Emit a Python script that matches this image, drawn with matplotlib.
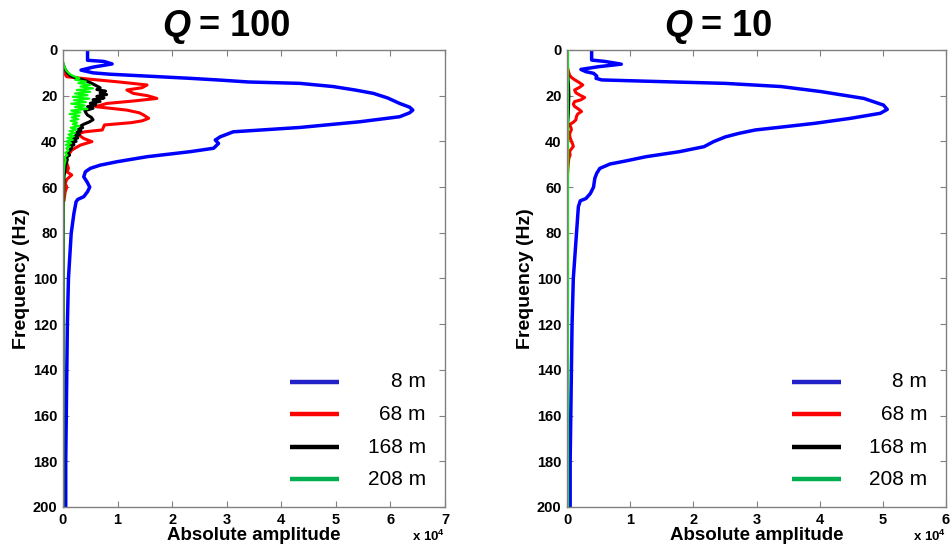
from __future__ import annotations

import matplotlib

matplotlib.use("Agg")
import matplotlib.pyplot as plt
from matplotlib.lines import Line2D

plt.rcParams["font.family"] = ["Liberation Sans", "DejaVu Sans"]
plt.rcParams["mathtext.fontset"] = "custom"
plt.rcParams["mathtext.rm"] = "Liberation Sans:bold"
plt.rcParams["mathtext.bf"] = "Liberation Sans:bold"

# Amplitude spectra, amplitudes in units of 1e4, frequency in Hz.
# ---- Q = 100 ----
q100_8m_freq = [0, 4.5, 5.0, 6.1, 7.5, 8.8, 10.0, 10.6, 11.5, 12.4, 13.2, 14.0, 14.6, 16.0, 17.5,
                19.0, 21.0, 23.4, 25.0, 26.3, 27.5, 29.2, 31.4, 33.9, 35.8, 38.0, 39.4, 40.9, 43.0,
                44.5, 46.7, 48.9, 50.4, 51.8, 53.3, 55.5, 57.7, 60.0, 62.0, 64.2, 65.4, 66.4, 71.5,
                80.3, 100, 120, 140, 160, 180, 200]
q100_8m_amp = [0.45, 0.45, 0.75, 0.90, 0.55, 0.33, 0.55, 0.86, 1.60, 2.33, 2.90, 3.40, 4.34, 4.95, 5.35,
               5.69, 5.95, 6.17, 6.35, 6.41, 6.35, 6.17, 5.44, 4.34, 3.12, 2.88, 2.79, 2.85, 2.76,
               2.33, 1.54, 0.99, 0.68, 0.50, 0.41, 0.38, 0.44, 0.49, 0.45, 0.38, 0.27, 0.24, 0.20,
               0.15, 0.10, 0.08, 0.07, 0.06, 0.05, 0.05]

q100_68m_freq = [7, 10, 11.7, 12.8, 13.9, 15.3, 16.5, 17.5, 19.0, 20.0, 21.2, 22.3, 23.4, 24.8, 26.3,
                 27.5, 28.5, 29.9, 31.0, 31.8, 32.8, 35.0, 35.8, 36.5, 37.2, 38.7, 40.1, 41.6, 43.8,
                 46.0, 47.4, 49.6, 51.8, 53.3, 54.7, 56.6, 58.4, 60.0, 62.0, 65.7]
q100_68m_amp = [0.0, 0.02, 0.07, 0.50, 0.99, 1.54, 1.45, 1.17, 1.29, 1.55, 1.72, 1.30, 0.80, 0.60, 1.17,
                1.40, 1.48, 1.57, 1.45, 1.25, 0.76, 0.72, 0.40, 0.30, 0.29, 0.38, 0.53, 0.32, 0.16,
                0.10, 0.01, 0.07, 0.10, 0.07, 0.16, 0.07, 0.04, 0.07, 0.04, 0.02]

q100_168m_freq = [6, 8, 10, 11.5, 12.5, 13.5, 14.5, 15.5, 16.5, 17.3, 18.0, 18.8, 19.5, 20.3, 21.0,
                  21.8, 22.5, 23.3, 24.0, 24.8, 25.5, 26.5, 27.5, 28.5, 29.5, 30.5, 31.5, 32.5, 33.3,
                  34.0, 34.8, 35.5, 36.3, 37.0, 37.8, 38.5, 39.3, 40.0, 40.8, 41.5, 42.3, 43.0, 44.0,
                  45.0, 46.0, 47.0, 48.0, 50.0, 52.0, 55.0, 60.0, 70.0, 100, 200]
q100_168m_amp = [0.0, 0.03, 0.08, 0.15, 0.28, 0.42, 0.52, 0.60, 0.68, 0.62, 0.78, 0.68, 0.80, 0.62, 0.75,
                 0.55, 0.68, 0.50, 0.60, 0.45, 0.55, 0.40, 0.42, 0.45, 0.52, 0.55, 0.48, 0.38, 0.32,
                 0.36, 0.28, 0.33, 0.24, 0.30, 0.20, 0.27, 0.16, 0.24, 0.13, 0.20, 0.11, 0.16, 0.12,
                 0.08, 0.12, 0.06, 0.08, 0.05, 0.04, 0.02, 0.01, 0.005, 0.003, 0.002]

q100_208m_freq = [5, 7, 9, 10.5, 11.5, 12.3, 13.0, 13.8, 14.5, 15.3, 16.0, 16.8, 17.5, 18.3, 19.0,
                  19.8, 20.5, 21.3, 22.0, 22.8, 23.5, 24.3, 25.0, 25.8, 26.5, 27.3, 28.0, 28.8, 29.5,
                  30.3, 31.0, 31.8, 32.5, 33.3, 34.0, 34.8, 35.5, 36.3, 37.0, 37.8, 38.5, 39.3, 40.0,
                  40.8, 41.5, 42.3, 43.0, 44.0, 45.0, 46.0, 47.0, 48.0, 50.0, 52.0, 55.0, 60.0, 80.0, 200]
q100_208m_amp = [0.0, 0.02, 0.06, 0.12, 0.20, 0.30, 0.22, 0.42, 0.28, 0.50, 0.32, 0.55, 0.25, 0.50, 0.22,
                 0.45, 0.18, 0.48, 0.20, 0.42, 0.15, 0.40, 0.22, 0.45, 0.15, 0.32, 0.12, 0.30, 0.16,
                 0.28, 0.14, 0.26, 0.18, 0.30, 0.14, 0.25, 0.12, 0.22, 0.10, 0.20, 0.08, 0.18, 0.06,
                 0.15, 0.05, 0.13, 0.06, 0.10, 0.04, 0.08, 0.03, 0.05, 0.03, 0.02, 0.01, 0.008, 0.006, 0.006]

# ---- Q = 10 ----
q10_8m_freq = [0, 4.4, 5.0, 6.2, 7.3, 8.5, 9.5, 10.2, 11.4, 12.4, 13.1, 13.9, 14.6, 16.0, 18.2, 21.2,
               24.1, 26.0, 27.7, 29.9, 32.1, 33.9, 35.0, 36.5, 38.0, 40.1, 42.3, 44.5, 46.7, 48.5,
               49.9, 51.8, 54.0, 56.2, 60.0, 62.8, 65.0, 66.0, 68.6, 80.3, 100, 120, 140, 160, 180, 200]
q10_8m_amp = [0.39, 0.39, 0.60, 0.86, 0.50, 0.22, 0.30, 0.42, 0.47, 0.46, 0.55, 1.57, 2.50, 3.39, 4.02, 4.70,
              5.01, 5.07, 4.96, 4.49, 3.92, 3.34, 2.98, 2.72, 2.51, 2.32, 2.17, 1.78, 1.25, 0.94,
              0.68, 0.52, 0.47, 0.44, 0.42, 0.37, 0.30, 0.21, 0.18, 0.15, 0.10, 0.08, 0.07, 0.06, 0.05, 0.05]

q10_68m_freq = [6.5, 9, 11, 12, 13, 14, 15.3, 16.3, 17.5, 18.7, 19.7, 20.8, 21.8, 22.6, 23.7, 24.7,
                25.8, 26.9, 28.0, 29.1, 30.6, 31.6, 32.7, 33.8, 34.9, 36.0, 37.1, 38.5, 40.0, 41.2,
                42.2, 43.3, 44.4, 46.0, 47.3, 50.0, 54.0, 57.0]
q10_68m_amp = [0.0, 0.02, 0.04, 0.07, 0.12, 0.18, 0.25, 0.20, 0.12, 0.14, 0.20, 0.28, 0.22, 0.12, 0.10, 0.12,
               0.18, 0.23, 0.17, 0.15, 0.14, 0.10, 0.04, 0.06, 0.07, 0.05, 0.04, 0.05, 0.07, 0.09,
               0.10, 0.07, 0.04, 0.05, 0.03, 0.02, 0.01, 0.005]

q10_168m_freq = [8, 12, 16, 20, 24, 28, 32, 36, 40, 200]
q10_168m_amp = [0.0, 0.015, 0.025, 0.03, 0.025, 0.02, 0.012, 0.006, 0.003, 0.002]

q10_208m_freq = [0, 200]
q10_208m_amp = [0.008, 0.008]

receiver_labels = ["8 m", "68 m", "168 m", "208 m"]
line_colors = ["#0000ff", "#ff0000", "#000000", "#00ff00"]
legend_colors = ["#2222c8", "#ff0000", "#000000", "#00b050"]
line_widths = [2.5, 2.2, 2.2, 1.5]


def draw_panel(ax, curves, q_value, x_max, title_split):
    for (freq, amp), color, width in zip(curves, line_colors, line_widths):
        ax.plot(amp, freq, color=color, linewidth=width)

    ax.set_xlim(0, x_max)
    ax.set_ylim(200, 0)
    ax.set_xticks(range(0, x_max + 1))
    ax.set_yticks(range(0, 201, 20))
    ax.tick_params(direction="in", top=True, right=True, length=4, width=0.8,
                   color="#808080", labelsize=10.5, pad=4)
    for label in ax.get_xticklabels() + ax.get_yticklabels():
        label.set_fontweight("bold")
    for spine in ax.spines.values():
        spine.set_color("#808080")
        spine.set_linewidth(1.0)

    ax.set_xlabel("Absolute amplitude", fontsize=13.5, fontweight="bold", labelpad=0)
    ax.set_ylabel("Frequency (Hz)", fontsize=14, fontweight="bold", labelpad=2)
    ax.text(1.0, -0.047, r"x 10$^{4}$", transform=ax.transAxes, ha="right", va="top",
            fontsize=9.5, fontweight="bold")

    # right-aligned legend rows in the lower right corner
    rows = [0.274, 0.203, 0.131, 0.061]
    for y, color, label in zip(rows, legend_colors, receiver_labels):
        ax.add_line(Line2D([0.594, 0.722], [y, y], transform=ax.transAxes,
                           color=color, linewidth=3.2, solid_capstyle="butt"))
        ax.text(0.95, y, label, transform=ax.transAxes, ha="right", va="center", fontsize=15)

    fig = ax.figure
    x_split = title_split / fig.bbox.width
    fig.text(x_split, 1 - 36 / 550, "Q", ha="right", va="baseline", fontsize=26,
             fontweight="bold", fontstyle="italic")
    fig.text(x_split + 9 / fig.bbox.width, 1 - 36 / 550, f"= {q_value}", ha="left",
             va="baseline", fontsize=26, fontweight="bold")


def main() -> None:
    fig = plt.figure(figsize=(9.53, 5.5), dpi=100)
    ax_left = fig.add_axes([63 / 953, 43 / 550, 382 / 953, 457 / 550])
    ax_right = fig.add_axes([567 / 953, 43 / 550, 379 / 953, 457 / 550])

    q100_curves = [
        (q100_8m_freq, q100_8m_amp),
        (q100_68m_freq, q100_68m_amp),
        (q100_168m_freq, q100_168m_amp),
        (q100_208m_freq, q100_208m_amp),
    ]
    q10_curves = [
        (q10_8m_freq, q10_8m_amp),
        (q10_68m_freq, q10_68m_amp),
        (q10_168m_freq, q10_168m_amp),
        (q10_208m_freq, q10_208m_amp),
    ]
    draw_panel(ax_left, q100_curves, 100, 7, 190)
    draw_panel(ax_right, q10_curves, 10, 6, 692)

    fig.savefig("out.png", dpi=100)
    plt.close(fig)


if __name__ == "__main__":
    main()
